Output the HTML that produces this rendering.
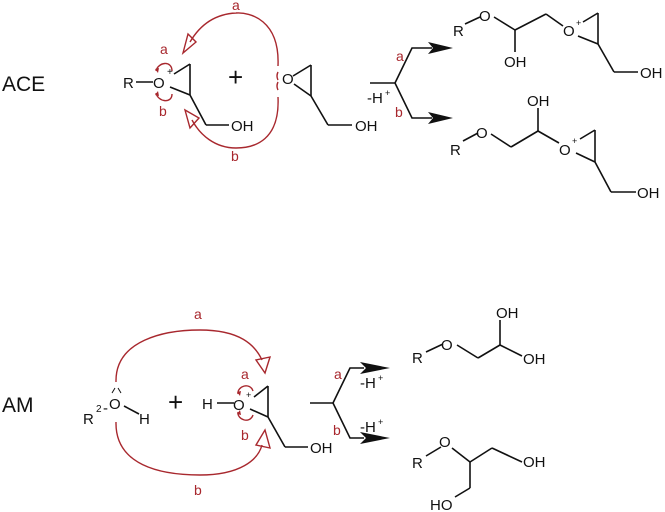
<!DOCTYPE html>
<html><head><meta charset="utf-8"><style>
html,body{margin:0;padding:0;background:#fff}
svg{display:block}
text{font-family:"Liberation Sans",sans-serif;fill:#111}
.r{fill:#a8282e}
</style></head><body>
<svg width="665" height="512" viewBox="0 0 665 512" xmlns="http://www.w3.org/2000/svg">
<g stroke="#111" stroke-width="1.6" fill="none">
<line x1="136" y1="82" x2="153" y2="82"/>
<line x1="174" y1="74" x2="190" y2="64"/>
<line x1="190" y1="64" x2="190" y2="95"/>
<line x1="170" y1="87" x2="190" y2="95"/>
<line x1="190" y1="95" x2="206" y2="125"/>
<line x1="206" y1="125" x2="229" y2="125"/>
<line x1="293" y1="76" x2="311" y2="65"/>
<line x1="311" y1="65" x2="311" y2="96"/>
<line x1="294" y1="84" x2="311" y2="96"/>
<line x1="311" y1="96" x2="328" y2="125"/>
<line x1="328" y1="125" x2="352" y2="125"/>
<line x1="370" y1="83" x2="395" y2="83"/>
<polyline points="395,83 412,48 432,48"/>
<polyline points="395,83 412,118 432,118"/>
<line x1="465" y1="24" x2="480" y2="17"/>
<line x1="494" y1="17" x2="515" y2="30"/>
<line x1="515" y1="30" x2="515" y2="52"/>
<line x1="515" y1="30" x2="546" y2="14"/>
<line x1="546" y1="14" x2="563" y2="26"/>
<line x1="583" y1="22" x2="598" y2="13"/>
<line x1="598" y1="13" x2="598" y2="44"/>
<line x1="578" y1="36" x2="598" y2="44"/>
<line x1="598" y1="44" x2="614" y2="72"/>
<line x1="614" y1="72" x2="638" y2="72"/>
<line x1="463" y1="141" x2="478" y2="133"/>
<line x1="491" y1="134" x2="511" y2="147"/>
<line x1="511" y1="147" x2="538" y2="131"/>
<line x1="538" y1="131" x2="538" y2="108"/>
<line x1="538" y1="131" x2="559" y2="143"/>
<line x1="580" y1="139" x2="595" y2="130"/>
<line x1="595" y1="130" x2="595" y2="162"/>
<line x1="576" y1="153" x2="595" y2="162"/>
<line x1="595" y1="162" x2="611" y2="192"/>
<line x1="611" y1="192" x2="636" y2="192"/>
<line x1="124" y1="406" x2="139" y2="414"/>
<line x1="217" y1="403" x2="234" y2="403"/>
<line x1="254" y1="397" x2="268" y2="386"/>
<line x1="268" y1="386" x2="268" y2="417"/>
<line x1="250" y1="409" x2="268" y2="417"/>
<line x1="268" y1="417" x2="285" y2="447"/>
<line x1="285" y1="447" x2="308" y2="447"/>
<line x1="310" y1="403" x2="333" y2="403"/>
<polyline points="333,403 350,368 364,368"/>
<polyline points="333,403 350,438 364,438"/>
<line x1="426" y1="352" x2="443" y2="344"/>
<line x1="457" y1="345" x2="478" y2="358"/>
<line x1="478" y1="358" x2="500" y2="345"/>
<line x1="500" y1="345" x2="500" y2="320"/>
<line x1="500" y1="345" x2="522" y2="356"/>
<line x1="426" y1="456" x2="441" y2="447"/>
<line x1="452" y1="448" x2="470" y2="462"/>
<line x1="470" y1="462" x2="492" y2="448"/>
<line x1="492" y1="448" x2="522" y2="462"/>
<line x1="470" y1="462" x2="470" y2="488"/>
<line x1="470" y1="488" x2="455" y2="497"/>
</g>
<g fill="#111">
<path d="M428,42 L453,48 L428,54 L433,48 Z"/>
<path d="M428,112 L453,118 L428,124 L433,118 Z"/>
<path d="M360,362 L390,368 L360,374 L366,368 Z"/>
<path d="M360,432 L390,438 L360,444 L366,438 Z"/>
</g>
<g stroke="#a8282e" stroke-width="1.4" fill="none">
<path d="M278,66 C280,20 250,12 236,13 C215,14 200,25 190,42"/>
<path d="M278,97 C280,140 255,148 236,148 C215,148 200,135 192,120"/>
<path d="M188,34 L183,53 L196,42 Z"/>
<path d="M190,128 L185,110 L199,118 Z"/>
<path d="M156,71 C158,62 172,60 172,71"/>
<path d="M156,93 C158,102 172,104 172,94"/>
<path d="M116,382 C115,340 165,330 200,330 C240,330 255,345 262,360"/>
<path d="M116,422 C115,465 160,475 200,475 C240,475 258,460 262,445"/>
<path d="M256,360 L265,373 L270,357 Z"/>
<path d="M256,445 L265,430 L270,448 Z"/>
<path d="M238,394 C237,386 250,382 253,391"/>
<path d="M238,412 C237,420 250,424 253,415"/>
<path d="M278,72 Q276,76 278,80"/>
<path d="M278,82 Q276,86 278,90"/>
</g>
<g fill="#a8282e"><path d="M155,69 L158,73 L159,68 Z"/><path d="M155,95 L158,91 L159,96 Z"/><path d="M237,392 L240,396 L241,391 Z"/><path d="M237,414 L240,410 L241,415 Z"/></g>
<g stroke="#111" stroke-width="1" fill="none"><path d="M112,393 l3,-5 M121,393 l-3,-5"/></g>
<text x="2" y="91" font-size="21">ACE</text>
<text x="2" y="412" font-size="21">AM</text>
<g font-size="15">
<text x="123" y="88">R</text>
<text x="153" y="88">O</text>
<text x="167" y="75" font-size="10">+</text>
<text x="231" y="131">OH</text>
<text x="228" y="86" font-size="26">+</text>
<text x="282" y="84">O</text>
<text x="355" y="131">OH</text>
<text x="367" y="103">-H</text><text x="385" y="96" font-size="9">+</text>
<text x="453" y="36">R</text>
<text x="479" y="21">O</text>
<text x="504" y="67">OH</text>
<text x="563" y="36">O</text>
<text x="576" y="26" font-size="9">+</text>
<text x="640" y="78">OH</text>
<text x="527" y="106">OH</text>
<text x="450" y="155">R</text>
<text x="476" y="138">O</text>
<text x="559" y="155">O</text>
<text x="572" y="144" font-size="9">+</text>
<text x="637" y="198">OH</text>
<text x="83" y="424">R</text><text x="96" y="412" font-size="10">2</text>
<text x="103" y="413">-</text>
<text x="109" y="409">O</text>
<text x="139" y="424">H</text>
<text x="168" y="411" font-size="26">+</text>
<text x="202" y="409">H</text>
<text x="233" y="410">O</text>
<text x="246" y="398" font-size="9">+</text>
<text x="310" y="453">OH</text>
<text x="360" y="388">-H</text><text x="378" y="381" font-size="9">+</text>
<text x="360" y="432">-H</text><text x="378" y="425" font-size="9">+</text>
<text x="412" y="363">R</text>
<text x="441" y="350">O</text>
<text x="496" y="318">OH</text>
<text x="523" y="364">OH</text>
<text x="412" y="468">R</text>
<text x="439" y="447">O</text>
<text x="523" y="467">OH</text>
<text x="430" y="510">HO</text>
</g>
<g font-size="14">
<text class="r" x="232" y="10">a</text>
<text class="r" x="231" y="161">b</text>
<text class="r" x="160" y="54">a</text>
<text class="r" x="159" y="116">b</text>
<text class="r" x="396" y="61">a</text>
<text class="r" x="395" y="117">b</text>
<text class="r" x="194" y="319">a</text>
<text class="r" x="194" y="495">b</text>
<text class="r" x="241" y="379">a</text>
<text class="r" x="241" y="440">b</text>
<text class="r" x="334" y="379">a</text>
<text class="r" x="333" y="435">b</text>
</g>
</svg>
</body></html>
